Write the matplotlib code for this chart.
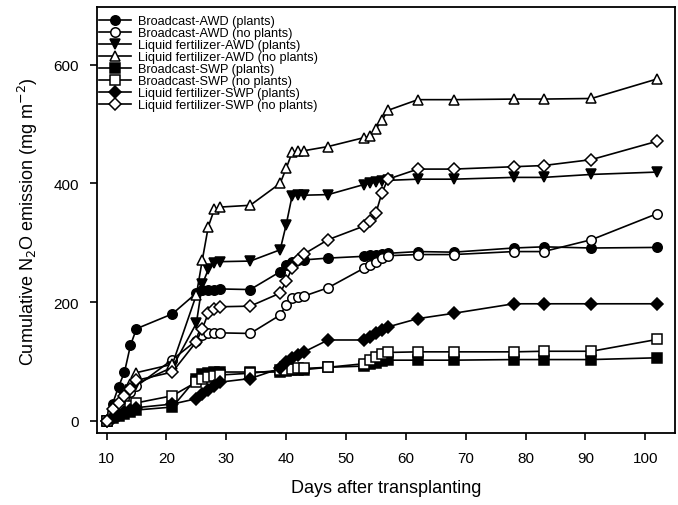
import matplotlib
matplotlib.use("Agg")
import matplotlib.pyplot as plt

plt.rcParams["font.family"] = ["Liberation Sans", "DejaVu Sans"]

# sampling days (days after transplanting)
days = [10, 11, 12, 13, 14, 15, 21, 25, 26, 27, 28, 29, 34, 39, 40, 41, 42, 43,
        47, 53, 54, 55, 56, 57, 62, 68, 78, 83, 91, 102]

# cumulative N2O emission (mg m-2)
bawd_plants = [0, 28, 57, 82, 127, 155, 180, 215, 220, 221, 221, 222, 221, 251, 263, 268, 270, 271,
               274, 277, 279, 280, 281, 282, 285, 284, 291, 293, 291, 292]
bawd_noplants = [0, 12, 25, 38, 48, 58, 103, 135, 145, 147, 147, 148, 147, 178, 195, 207, 209, 210,
                 224, 257, 262, 267, 274, 278, 280, 280, 285, 285, 305, 349]
lawd_plants = [0, 12, 25, 40, 52, 62, 90, 164, 230, 255, 265, 268, 269, 288, 330, 379, 380, 380,
               381, 398, 400, 402, 404, 405, 407, 407, 410, 410, 415, 419]
lawd_noplants = [0, 15, 30, 48, 62, 81, 95, 212, 271, 327, 356, 360, 363, 400, 425, 452, 454, 455,
                 462, 477, 479, 492, 506, 523, 541, 541, 542, 542, 543, 576]
bswp_plants = [0, 4, 8, 12, 15, 18, 23, 71, 79, 81, 82, 82, 82, 82, 84, 85, 86, 86,
               90, 92, 95, 98, 100, 102, 102, 102, 103, 103, 103, 106]
bswp_noplants = [0, 8, 15, 20, 25, 30, 42, 65, 71, 73, 76, 77, 80, 85, 86, 87, 88, 88,
                 90, 96, 102, 107, 113, 115, 116, 116, 116, 117, 117, 137]
lswp_plants = [0, 5, 10, 14, 18, 22, 28, 37, 45, 51, 58, 65, 71, 88, 99, 105, 110, 116,
               136, 136, 141, 147, 153, 158, 172, 181, 197, 197, 197, 197]
lswp_noplants = [0, 20, 30, 42, 54, 68, 82, 133, 155, 181, 189, 192, 193, 215, 235, 257, 271, 281,
                 305, 328, 336, 350, 384, 407, 424, 424, 428, 430, 440, 471]

labels = ["Broadcast-AWD (plants)", "Broadcast-AWD (no plants)",
          "Liquid fertilizer-AWD (plants)", "Liquid fertilizer-AWD (no plants)",
          "Broadcast-SWP (plants)", "Broadcast-SWP (no plants)",
          "Liquid fertilizer-SWP (plants)", "Liquid fertilizer-SWP (no plants)"]
series = [bawd_plants, bawd_noplants, lawd_plants, lawd_noplants,
          bswp_plants, bswp_noplants, lswp_plants, lswp_noplants]
markers = ["o", "o", "v", "^", "s", "s", "D", "D"]
filled = [True, False, True, False, True, False, True, False]

fig = plt.figure(figsize=(6.78, 5.06), dpi=100)
ax = fig.add_axes([0.143, 0.142, 0.853, 0.842])

for vals, lab, m, f in zip(series, labels, markers, filled):
    ms = 5.8 if m == "D" else 6.8
    ax.plot(days, vals, color="black", lw=1.2, marker=m, ms=ms, mew=1.1,
            mfc="black" if f else "white", mec="black", label=lab)

ax.set_xlim(8.4, 105)
ax.set_ylim(-21, 697)
ax.set_xticks(range(10, 101, 10))
ax.set_yticks([0, 200, 400, 600])
ax.tick_params(direction="out", length=5, width=1.2, labelsize=11, pad=8)
for s in ax.spines.values():
    s.set_linewidth(1.3)

ax.set_xlabel("Days after transplanting", fontsize=13, labelpad=10)
ax.set_ylabel("Cumulative N$_2$O emission (mg m$^{-2}$)", fontsize=13, labelpad=10)

ax.legend(loc="upper left", bbox_to_anchor=(0.0, 0.985), frameon=False, fontsize=9.2,
          labelspacing=0.0, handlelength=2.5, handletextpad=0.6,
          borderaxespad=0.0, borderpad=0.15)

fig.savefig("out.png", dpi=100)
